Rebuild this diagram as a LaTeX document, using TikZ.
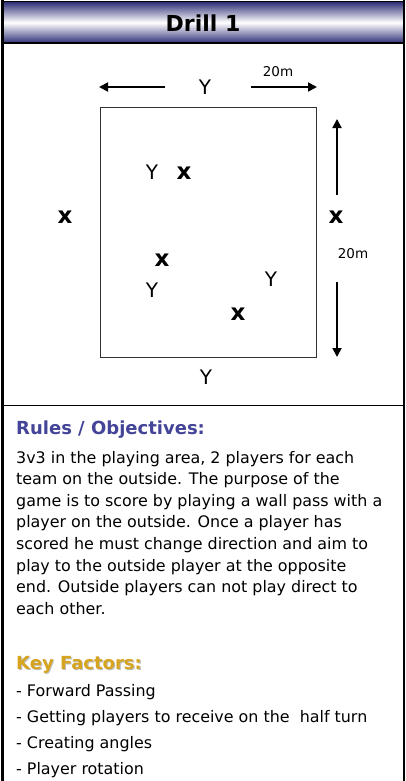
\documentclass[tikz,border=0pt]{standalone}
\usepackage{fontspec}
\setmainfont{DejaVu Sans}
\usetikzlibrary{arrows.meta}
\definecolor{barnavy}{RGB}{48,48,120}
\definecolor{headblue}{RGB}{68,68,152}
\definecolor{keygold}{RGB}{214,164,30}
\tikzset{
  frameline/.style={line width=2pt,black},
  dimarrow/.style={line width=1.8pt,-{Triangle[length=9pt,width=9pt]}},
  ylabel/.style={font=\fontsize{20}{24}\selectfont,inner sep=0pt},
  xlabel/.style={font=\fontsize{23}{26}\selectfont\bfseries,inner sep=0pt},
  mlabel/.style={font=\fontsize{13.5}{15}\selectfont,inner sep=0pt},
  bodyline/.style={anchor=base west,inner sep=0pt,font=\fontsize{15.9}{18}\selectfont},
}
\begin{document}
\begin{tikzpicture}[x=1pt,y=-1pt]
\useasboundingbox (0,0) rectangle (406,781);
% title bar
\shade[top color=barnavy,bottom color=barnavy,middle color=white] (2,2) rectangle (404,43);
\draw[line width=1.6pt] (1,1.5) -- (405,1.5);
\draw[line width=1.6pt] (2,43) -- (404,43);
\node[font=\fontsize{22}{26}\selectfont\bfseries,anchor=base,inner sep=0pt] (title) at (203,32) {Drill 1};
% frame sides
\draw[line width=3pt] (2.5,0) -- (2.5,781);
\draw[frameline] (404,0) -- (404,781);
% separator
\draw[line width=1.5pt] (2,405.5) -- (404,405.5);
% field
\draw[line width=1pt,black!80] (100,108) rectangle (316,357);
% top dimension
\node[ylabel] (ytop) at (205,87) {Y};
\node[mlabel] (m1) at (278,72) {20m};
\coordinate (tl1) at (165,87); \coordinate (tl2) at (99,87);
\coordinate (tr1) at (251,87); \coordinate (tr2) at (317,87);
\draw[dimarrow] (tl1) -- (tl2);
\draw[dimarrow] (tr1) -- (tr2);
% right dimension
\coordinate (ru1) at (337,195); \coordinate (ru2) at (337,119);
\coordinate (rd1) at (337,282); \coordinate (rd2) at (337,357);
\draw[dimarrow] (ru1) -- (ru2);
\draw[dimarrow] (rd1) -- (rd2);
\node[mlabel] (m2) at (353,254) {20m};
% players
\node[xlabel] (xl) at (65,217) {x};
\node[xlabel] (xr) at (336,217) {x};
\node[ylabel] (y1) at (152,172) {Y};
\node[xlabel] (x1) at (184,173) {x};
\node[xlabel] (x2) at (162,260) {x};
\node[ylabel] (y2) at (152,290) {Y};
\node[ylabel] (y3) at (271,279) {Y};
\node[xlabel] (x3) at (238,314) {x};
\node[ylabel] (ybot) at (206,377) {Y};
% rules
\node[anchor=base west,inner sep=0pt,text=headblue,font=\fontsize{18}{22}\selectfont\bfseries] (rh) at (16,434) {Rules / Objectives:};
\node[bodyline] (r1) at (16,463) {3v3 in the playing area, 2 players for each};
\node[bodyline] (r2) at (16,484.6) {team on the outside. The purpose of the};
\node[bodyline] (r3) at (16,506.2) {game is to score by playing a wall pass with a};
\node[bodyline] (r4) at (16,527.8) {player on the outside. Once a player has};
\node[bodyline] (r5) at (16,549.4) {scored he must change direction and aim to};
\node[bodyline] (r6) at (16,571) {play to the outside player at the opposite};
\node[bodyline] (r7) at (16,592.6) {end. Outside players can not play direct to};
\node[bodyline] (r8) at (16,614.2) {each other.};
% key factors
\node[anchor=base west,inner sep=0pt,text=black!25,font=\fontsize{18}{22}\selectfont\bfseries] (khs) at (17.2,670.2) {Key Factors:};
\node[anchor=base west,inner sep=0pt,text=keygold,font=\fontsize{18}{22}\selectfont\bfseries] (kh) at (16,669) {Key Factors:};
\node[bodyline] (k1) at (16,696) {- Forward Passing};
\node[bodyline] (k2) at (16,722) {- Getting players to receive on the\ \ half turn};
\node[bodyline] (k3) at (16,748) {- Creating angles};
\node[bodyline] (k4) at (16,774) {- Player rotation};
\end{tikzpicture}
\end{document}
